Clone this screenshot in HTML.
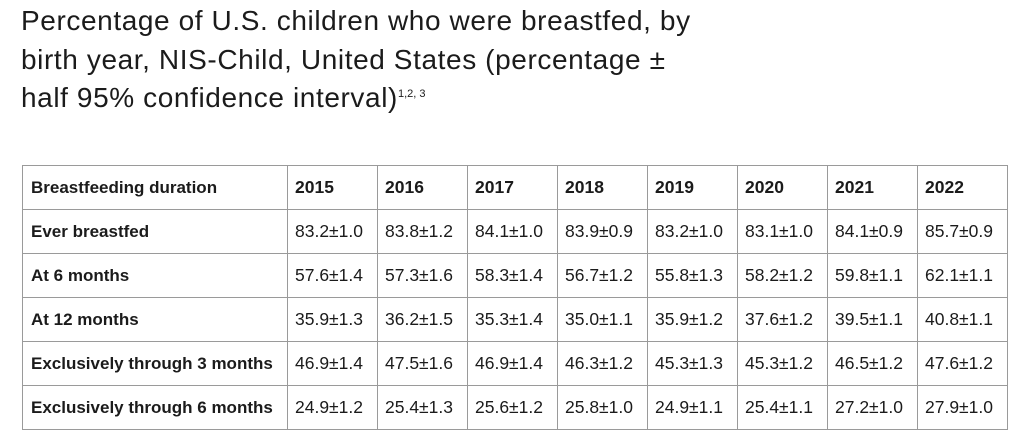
<!DOCTYPE html>
<html><head><meta charset="utf-8"><style>
body{margin:0;background:#fff;width:1020px;height:445px;overflow:hidden;font-family:"Liberation Sans",sans-serif;color:#1b1b1b}
h1{position:absolute;left:21px;top:2px;margin:0;font-weight:normal;font-size:28px;line-height:38.5px;white-space:nowrap;letter-spacing:0.6px}
h1 sup{font-size:11px;vertical-align:10px;letter-spacing:0;line-height:0}
table{position:absolute;left:22px;top:165px;border-collapse:collapse;table-layout:fixed}
td{border:1px solid #9a9a9a;height:44px;padding:0 0 0 8px;font-size:17.5px;box-sizing:border-box;white-space:nowrap;overflow:hidden}
td:first-child{width:265px;font-weight:bold;font-size:17px}
td:not(:first-child){width:90px;padding-left:7px}
tr:first-child td{font-weight:bold}
</style></head><body>
<h1>Percentage of U.S. children who were breastfed, by<br>birth year, NIS-Child, United States (percentage ±<br>half 95% confidence interval)<sup>1,2, 3</sup></h1>
<table>
<tr><td>Breastfeeding duration</td><td>2015</td><td>2016</td><td>2017</td><td>2018</td><td>2019</td><td>2020</td><td>2021</td><td>2022</td></tr>
<tr><td>Ever breastfed</td><td>83.2±1.0</td><td>83.8±1.2</td><td>84.1±1.0</td><td>83.9±0.9</td><td>83.2±1.0</td><td>83.1±1.0</td><td>84.1±0.9</td><td>85.7±0.9</td></tr>
<tr><td>At 6 months</td><td>57.6±1.4</td><td>57.3±1.6</td><td>58.3±1.4</td><td>56.7±1.2</td><td>55.8±1.3</td><td>58.2±1.2</td><td>59.8±1.1</td><td>62.1±1.1</td></tr>
<tr><td>At 12 months</td><td>35.9±1.3</td><td>36.2±1.5</td><td>35.3±1.4</td><td>35.0±1.1</td><td>35.9±1.2</td><td>37.6±1.2</td><td>39.5±1.1</td><td>40.8±1.1</td></tr>
<tr><td>Exclusively through 3 months</td><td>46.9±1.4</td><td>47.5±1.6</td><td>46.9±1.4</td><td>46.3±1.2</td><td>45.3±1.3</td><td>45.3±1.2</td><td>46.5±1.2</td><td>47.6±1.2</td></tr>
<tr><td>Exclusively through 6 months</td><td>24.9±1.2</td><td>25.4±1.3</td><td>25.6±1.2</td><td>25.8±1.0</td><td>24.9±1.1</td><td>25.4±1.1</td><td>27.2±1.0</td><td>27.9±1.0</td></tr>
</table>
</body></html>
